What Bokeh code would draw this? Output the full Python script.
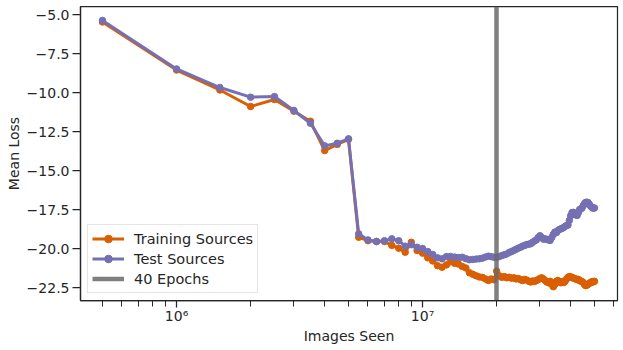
from bokeh.plotting import figure
from bokeh.models import FixedTicker, CustomJSTickFormatter, Range1d, Legend
from bokeh.embed import file_html
from bokeh.resources import INLINE

# ---------------- data ----------------
epochs = list(range(1, 101))
images_per_epoch = 500_000
marker_epoch = 40

train_loss = [
    -5.48, -8.56, -9.84, -10.90, -10.45, -11.20, -11.84, -13.72, -13.33, -13.00,
    -19.28, -19.50, -19.55, -19.55, -19.80, -19.98, -20.24, -19.60, -20.13, -20.30,
    -20.60, -20.80, -21.10, -21.20, -21.05, -20.85, -20.95, -21.00, -21.15, -21.25,
    -21.55, -21.65, -21.75, -21.82, -21.85, -21.95, -22.05, -21.95, -22.00, -21.45,
    -21.75, -21.85, -21.80, -21.88, -21.84, -21.90, -21.88, -21.95, -21.92, -22.00,
    -22.05, -21.98, -22.02, -22.10, -22.15, -22.08, -22.12, -22.05, -22.00, -21.92,
    -21.88, -21.95, -22.05, -22.15, -22.20, -22.10, -22.30, -22.45, -22.30, -22.10,
    -22.05, -22.15, -22.20, -22.12, -22.18, -22.10, -21.95, -21.85, -21.80, -21.82,
    -21.85, -21.90, -21.92, -21.95, -22.00, -21.98, -22.05, -22.10, -22.12, -22.18,
    -22.30, -22.38, -22.35, -22.30, -22.25, -22.20, -22.15, -22.12, -22.15, -22.10,
]
test_loss = [
    -5.38, -8.49, -9.68, -10.30, -10.26, -11.15, -11.97, -13.42, -13.25, -12.97,
    -19.06, -19.45, -19.55, -19.50, -19.38, -19.50, -19.85, -19.76, -19.92, -20.00,
    -20.20, -20.38, -20.60, -20.66, -20.52, -20.51, -20.55, -20.58, -20.56, -20.65,
    -20.72, -20.70, -20.68, -20.66, -20.62, -20.55, -20.49, -20.52, -20.56, -20.56,
    -20.52, -20.45, -20.40, -20.35, -20.25, -20.20, -20.12, -20.05, -19.98, -19.92,
    -19.85, -19.80, -19.75, -19.72, -19.70, -19.60, -19.52, -19.45, -19.30, -19.18,
    -19.30, -19.40, -19.38, -19.42, -19.45, -19.48, -19.30, -19.10, -18.95, -18.98,
    -18.85, -18.78, -18.74, -18.70, -18.65, -18.58, -18.53, -18.50, -18.20, -17.90,
    -17.70, -17.68, -17.75, -17.85, -17.88, -17.70, -17.50, -17.46, -17.40, -17.25,
    -17.13, -17.05, -17.03, -17.05, -17.13, -17.25, -17.33, -17.38, -17.42, -17.40,
]

x_major_ticks = [1e6, 1e7]
x_major_labels = {1e6: "10\u2076", 1e7: "10\u2077"}
x_minor_ticks = [4e5, 5e5, 6e5, 7e5, 8e5, 9e5,
                 2e6, 3e6, 4e6, 5e6, 6e6, 7e6, 8e6, 9e6,
                 2e7, 3e7, 4e7, 5e7, 6e7]
y_ticks = [-22.5, -20.0, -17.5, -15.0, -12.5, -10.0, -7.5, -5.0]

images_seen = [e * images_per_epoch for e in epochs]
marker_images = marker_epoch * images_per_epoch

ORANGE = "#d95f02"
PURPLE = "#7570b3"
DARK = "#262626"
FONT = "DejaVu Sans"

p = figure(width=623, height=350, x_axis_type="log",
           output_backend="svg", toolbar_location=None,
           x_range=Range1d(4.07e5, 6.2e7), y_range=Range1d(-23.333, -4.487),
           min_border_left=80, min_border_right=6, min_border_top=6, min_border_bottom=50)

p.grid.visible = False
p.outline_line_color = DARK
p.outline_line_width = 1.25
p.background_fill_color = "white"
p.border_fill_color = "white"

r_train_l = p.line(images_seen, train_loss, line_color=ORANGE, line_width=3)
r_train_s = p.scatter(images_seen, train_loss, size=6.5, fill_color=ORANGE, line_color=ORANGE)
r_test_l = p.line(images_seen, test_loss, line_color=PURPLE, line_width=3)
r_test_s = p.scatter(images_seen, test_loss, size=6.5, fill_color=PURPLE, line_color=PURPLE)
r_v = p.vspan(x=[marker_images], line_color="#6a6a6a", line_width=4.5, line_alpha=0.85)

legend = Legend(items=[("Training Sources", [r_train_l, r_train_s]),
                       ("Test Sources", [r_test_l, r_test_s]),
                       ("40 Epochs", [r_v])],
                location=(7, 7))
legend.label_text_font = FONT
legend.label_text_font_size = "14.5px"
legend.label_text_color = DARK
legend.glyph_width = 32
legend.glyph_height = 19
legend.label_standoff = 10
legend.spacing = 1
legend.padding = 4
legend.margin = 0
legend.border_line_color = "#cccccc"
legend.border_line_width = 1
legend.background_fill_alpha = 0.8
p.add_layout(legend, "center")

# x axis
xa = p.xaxis[0]
xa.ticker = FixedTicker(ticks=x_major_ticks, minor_ticks=x_minor_ticks)
xa.major_label_overrides = x_major_labels
xa.axis_label = "Images Seen"
# y axis
ya = p.yaxis[0]
ya.ticker = FixedTicker(ticks=y_ticks)
ya.formatter = CustomJSTickFormatter(code="""
    const s = Math.abs(tick).toFixed(1);
    return (tick < 0 ? "\\u2212" : "") + s;
""")
ya.axis_label = "Mean Loss"
ya.minor_tick_out = 0
ya.minor_tick_in = 0

for ax in (xa, ya):
    ax.axis_line_color = DARK
    ax.axis_line_width = 1.25
    ax.major_tick_line_color = DARK
    ax.minor_tick_line_color = DARK
    ax.major_tick_line_width = 1.25
    ax.minor_tick_line_width = 1.0
    ax.major_tick_in = 0
    ax.major_label_text_font = FONT
    ax.major_label_text_font_size = "14px"
    ax.major_label_text_color = DARK
    ax.axis_label_text_font = FONT
    ax.axis_label_text_font_size = "14px"
    ax.axis_label_text_font_style = "normal"
    ax.axis_label_text_color = DARK

xa.major_tick_out = 7
xa.minor_tick_out = 6
xa.minor_tick_in = 0
xa.major_label_standoff = 0
xa.axis_label_standoff = 1
ya.major_tick_out = 8
ya.major_label_standoff = 3
ya.axis_label_standoff = 2

open("out.html", "w").write(file_html(p, INLINE))
